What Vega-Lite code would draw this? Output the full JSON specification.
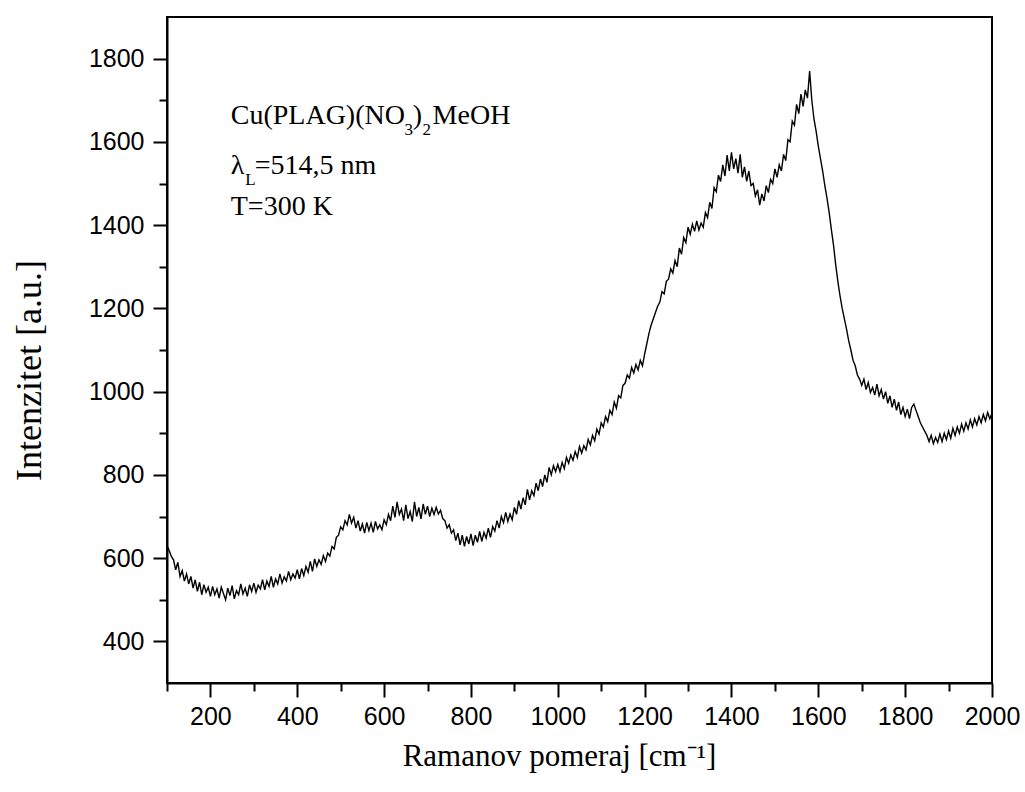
{
  "$schema": "https://vega.github.io/schema/vega-lite/v6.json",
  "width": 825,
  "height": 666,
  "autosize": "none",
  "padding": {"left": 167, "top": 17, "right": 33, "bottom": 109},
  "background": "white",
  "config": {
    "view": {"stroke": "black", "strokeWidth": 2},
    "axis": {
      "grid": false,
      "domainColor": "black",
      "domainWidth": 2,
      "tickColor": "black",
      "tickWidth": 2,
      "labelFont": "Liberation Sans",
      "labelFontSize": 25,
      "labelColor": "black",
      "labelOverlap": false,
      "labelFlush": false,
      "titleFont": "Liberation Serif",
      "titleFontWeight": "normal",
      "titleColor": "black"
    }
  },
  "datasets": {
    "spectrum": [
      {"shift":100,"counts":630},{"shift":105,"counts":618},{"shift":110,"counts":604},{"shift":115,"counts":596},{"shift":120,"counts":572},{"shift":125,"counts":590},{"shift":130,"counts":556},{"shift":135,"counts":570},{"shift":140,"counts":545},{"shift":145,"counts":562},{"shift":150,"counts":538},{"shift":155,"counts":556},{"shift":160,"counts":528},{"shift":165,"counts":548},{"shift":170,"counts":520},{"shift":175,"counts":542},{"shift":180,"counts":512},{"shift":185,"counts":536},{"shift":190,"counts":518},{"shift":195,"counts":530},
      {"shift":200,"counts":508},{"shift":205,"counts":532},{"shift":210,"counts":512},{"shift":215,"counts":526},{"shift":220,"counts":504},{"shift":225,"counts":530},{"shift":230,"counts":515},{"shift":235,"counts":500},{"shift":240,"counts":528},{"shift":245,"counts":510},{"shift":250,"counts":534},{"shift":255,"counts":502},{"shift":260,"counts":522},{"shift":265,"counts":512},{"shift":270,"counts":538},{"shift":275,"counts":514},{"shift":280,"counts":528},{"shift":285,"counts":508},{"shift":290,"counts":536},{"shift":295,"counts":520},
      {"shift":300,"counts":540},{"shift":305,"counts":518},{"shift":310,"counts":535},{"shift":315,"counts":526},{"shift":320,"counts":548},{"shift":325,"counts":524},{"shift":330,"counts":545},{"shift":335,"counts":532},{"shift":340,"counts":556},{"shift":345,"counts":530},{"shift":350,"counts":550},{"shift":355,"counts":538},{"shift":360,"counts":562},{"shift":365,"counts":540},{"shift":370,"counts":555},{"shift":375,"counts":545},{"shift":380,"counts":568},{"shift":385,"counts":548},{"shift":390,"counts":562},{"shift":395,"counts":552},
      {"shift":400,"counts":572},{"shift":405,"counts":550},{"shift":410,"counts":575},{"shift":415,"counts":558},{"shift":420,"counts":580},{"shift":425,"counts":566},{"shift":430,"counts":592},{"shift":435,"counts":568},{"shift":440,"counts":598},{"shift":445,"counts":580},{"shift":450,"counts":596},{"shift":455,"counts":585},{"shift":460,"counts":606},{"shift":465,"counts":592},{"shift":470,"counts":612},{"shift":475,"counts":605},{"shift":480,"counts":628},{"shift":485,"counts":622},{"shift":490,"counts":650},{"shift":495,"counts":655},
      {"shift":500,"counts":675},{"shift":505,"counts":668},{"shift":510,"counts":690},{"shift":515,"counts":680},{"shift":520,"counts":705},{"shift":525,"counts":684},{"shift":530,"counts":698},{"shift":535,"counts":672},{"shift":540,"counts":690},{"shift":545,"counts":665},{"shift":550,"counts":682},{"shift":555,"counts":660},{"shift":560,"counts":686},{"shift":565,"counts":666},{"shift":570,"counts":684},{"shift":575,"counts":662},{"shift":580,"counts":688},{"shift":585,"counts":670},{"shift":590,"counts":680},{"shift":595,"counts":668},
      {"shift":600,"counts":692},{"shift":605,"counts":680},{"shift":610,"counts":705},{"shift":615,"counts":690},{"shift":620,"counts":725},{"shift":625,"counts":698},{"shift":630,"counts":735},{"shift":635,"counts":705},{"shift":640,"counts":718},{"shift":645,"counts":690},{"shift":650,"counts":728},{"shift":655,"counts":695},{"shift":660,"counts":712},{"shift":665,"counts":688},{"shift":670,"counts":735},{"shift":675,"counts":700},{"shift":680,"counts":722},{"shift":685,"counts":694},{"shift":690,"counts":730},{"shift":695,"counts":705},
      {"shift":700,"counts":725},{"shift":705,"counts":700},{"shift":710,"counts":720},{"shift":715,"counts":705},{"shift":720,"counts":722},{"shift":725,"counts":706},{"shift":730,"counts":715},{"shift":735,"counts":695},{"shift":740,"counts":690},{"shift":745,"counts":672},{"shift":750,"counts":680},{"shift":755,"counts":660},{"shift":760,"counts":668},{"shift":765,"counts":642},{"shift":770,"counts":660},{"shift":775,"counts":632},{"shift":780,"counts":655},{"shift":785,"counts":628},{"shift":790,"counts":652},{"shift":795,"counts":634},
      {"shift":800,"counts":658},{"shift":805,"counts":630},{"shift":810,"counts":655},{"shift":815,"counts":638},{"shift":820,"counts":664},{"shift":825,"counts":640},{"shift":830,"counts":662},{"shift":835,"counts":648},{"shift":840,"counts":672},{"shift":845,"counts":650},{"shift":850,"counts":676},{"shift":855,"counts":665},{"shift":860,"counts":690},{"shift":865,"counts":672},{"shift":870,"counts":700},{"shift":875,"counts":685},{"shift":880,"counts":710},{"shift":885,"counts":688},{"shift":890,"counts":706},{"shift":895,"counts":692},
      {"shift":900,"counts":722},{"shift":905,"counts":705},{"shift":910,"counts":738},{"shift":915,"counts":718},{"shift":920,"counts":745},{"shift":925,"counts":728},{"shift":930,"counts":765},{"shift":935,"counts":740},{"shift":940,"counts":762},{"shift":945,"counts":750},{"shift":950,"counts":780},{"shift":955,"counts":762},{"shift":960,"counts":790},{"shift":965,"counts":772},{"shift":970,"counts":800},{"shift":975,"counts":782},{"shift":980,"counts":818},{"shift":985,"counts":800},{"shift":990,"counts":822},{"shift":995,"counts":808},
      {"shift":1000,"counts":825},{"shift":1005,"counts":808},{"shift":1010,"counts":830},{"shift":1015,"counts":815},{"shift":1020,"counts":842},{"shift":1025,"counts":828},{"shift":1030,"counts":848},{"shift":1035,"counts":835},{"shift":1040,"counts":856},{"shift":1045,"counts":842},{"shift":1050,"counts":868},{"shift":1055,"counts":852},{"shift":1060,"counts":870},{"shift":1065,"counts":860},{"shift":1070,"counts":885},{"shift":1075,"counts":872},{"shift":1080,"counts":895},{"shift":1085,"counts":882},{"shift":1090,"counts":910},{"shift":1095,"counts":898},
      {"shift":1100,"counts":925},{"shift":1105,"counts":915},{"shift":1110,"counts":940},{"shift":1115,"counts":928},{"shift":1120,"counts":955},{"shift":1125,"counts":945},{"shift":1130,"counts":975},{"shift":1135,"counts":960},{"shift":1140,"counts":990},{"shift":1145,"counts":985},{"shift":1150,"counts":1015},{"shift":1155,"counts":1020},{"shift":1160,"counts":1040},{"shift":1165,"counts":1032},{"shift":1170,"counts":1058},{"shift":1175,"counts":1045},{"shift":1180,"counts":1065},{"shift":1185,"counts":1052},{"shift":1190,"counts":1075},{"shift":1195,"counts":1062},
      {"shift":1200,"counts":1090},{"shift":1205,"counts":1115},{"shift":1210,"counts":1140},{"shift":1215,"counts":1160},{"shift":1220,"counts":1175},{"shift":1225,"counts":1190},{"shift":1230,"counts":1205},{"shift":1235,"counts":1215},{"shift":1240,"counts":1240},{"shift":1245,"counts":1235},{"shift":1250,"counts":1265},{"shift":1255,"counts":1270},{"shift":1260,"counts":1295},{"shift":1265,"counts":1285},{"shift":1270,"counts":1315},{"shift":1275,"counts":1300},{"shift":1280,"counts":1345},{"shift":1285,"counts":1330},{"shift":1290,"counts":1370},{"shift":1295,"counts":1358},
      {"shift":1300,"counts":1395},{"shift":1305,"counts":1378},{"shift":1310,"counts":1402},{"shift":1315,"counts":1385},{"shift":1320,"counts":1410},{"shift":1325,"counts":1388},{"shift":1330,"counts":1405},{"shift":1335,"counts":1395},{"shift":1340,"counts":1430},{"shift":1345,"counts":1418},{"shift":1350,"counts":1455},{"shift":1355,"counts":1440},{"shift":1360,"counts":1490},{"shift":1365,"counts":1480},{"shift":1370,"counts":1520},{"shift":1375,"counts":1505},{"shift":1380,"counts":1545},{"shift":1385,"counts":1518},{"shift":1390,"counts":1568},{"shift":1395,"counts":1530},
      {"shift":1400,"counts":1575},{"shift":1405,"counts":1535},{"shift":1410,"counts":1560},{"shift":1415,"counts":1525},{"shift":1420,"counts":1570},{"shift":1425,"counts":1515},{"shift":1430,"counts":1540},{"shift":1435,"counts":1505},{"shift":1440,"counts":1530},{"shift":1445,"counts":1495},{"shift":1450,"counts":1500},{"shift":1455,"counts":1470},{"shift":1460,"counts":1485},{"shift":1465,"counts":1448},{"shift":1470,"counts":1475},{"shift":1475,"counts":1458},{"shift":1480,"counts":1495},{"shift":1485,"counts":1478},{"shift":1490,"counts":1510},{"shift":1495,"counts":1500},
      {"shift":1500,"counts":1535},{"shift":1505,"counts":1515},{"shift":1510,"counts":1545},{"shift":1515,"counts":1530},{"shift":1520,"counts":1570},{"shift":1525,"counts":1555},{"shift":1530,"counts":1605},{"shift":1535,"counts":1600},{"shift":1540,"counts":1650},{"shift":1545,"counts":1640},{"shift":1550,"counts":1690},{"shift":1555,"counts":1668},{"shift":1560,"counts":1715},{"shift":1565,"counts":1685},{"shift":1570,"counts":1725},{"shift":1575,"counts":1705},{"shift":1580,"counts":1770},{"shift":1585,"counts":1700},{"shift":1590,"counts":1655},{"shift":1595,"counts":1625},
      {"shift":1600,"counts":1590},{"shift":1605,"counts":1560},{"shift":1610,"counts":1530},{"shift":1615,"counts":1495},{"shift":1620,"counts":1465},{"shift":1625,"counts":1430},{"shift":1630,"counts":1390},{"shift":1635,"counts":1352},{"shift":1640,"counts":1305},{"shift":1645,"counts":1265},{"shift":1650,"counts":1230},{"shift":1655,"counts":1200},{"shift":1660,"counts":1175},{"shift":1665,"counts":1150},{"shift":1670,"counts":1122},{"shift":1675,"counts":1100},{"shift":1680,"counts":1075},{"shift":1685,"counts":1062},{"shift":1690,"counts":1040},{"shift":1695,"counts":1030},
      {"shift":1700,"counts":1015},{"shift":1705,"counts":1030},{"shift":1710,"counts":1005},{"shift":1715,"counts":1022},{"shift":1720,"counts":998},{"shift":1725,"counts":1010},{"shift":1730,"counts":992},{"shift":1735,"counts":1018},{"shift":1740,"counts":990},{"shift":1745,"counts":1005},{"shift":1750,"counts":982},{"shift":1755,"counts":1000},{"shift":1760,"counts":972},{"shift":1765,"counts":990},{"shift":1770,"counts":962},{"shift":1775,"counts":982},{"shift":1780,"counts":955},{"shift":1785,"counts":975},{"shift":1790,"counts":945},{"shift":1795,"counts":962},
      {"shift":1800,"counts":940},{"shift":1805,"counts":958},{"shift":1810,"counts":935},{"shift":1815,"counts":962},{"shift":1820,"counts":970},{"shift":1825,"counts":955},{"shift":1830,"counts":940},{"shift":1835,"counts":925},{"shift":1840,"counts":915},{"shift":1845,"counts":905},{"shift":1850,"counts":895},{"shift":1855,"counts":880},{"shift":1860,"counts":895},{"shift":1865,"counts":875},{"shift":1870,"counts":890},{"shift":1875,"counts":878},{"shift":1880,"counts":898},{"shift":1885,"counts":880},{"shift":1890,"counts":900},{"shift":1895,"counts":885},
      {"shift":1900,"counts":905},{"shift":1905,"counts":888},{"shift":1910,"counts":912},{"shift":1915,"counts":895},{"shift":1920,"counts":915},{"shift":1925,"counts":900},{"shift":1930,"counts":922},{"shift":1935,"counts":905},{"shift":1940,"counts":925},{"shift":1945,"counts":910},{"shift":1950,"counts":932},{"shift":1955,"counts":915},{"shift":1960,"counts":935},{"shift":1965,"counts":920},{"shift":1970,"counts":940},{"shift":1975,"counts":925},{"shift":1980,"counts":945},{"shift":1985,"counts":930},{"shift":1990,"counts":950},{"shift":1995,"counts":935},{"shift":2000,"counts":948}
    ],
    "notes": [
      {"shift":246.8,"counts":1644,"text":"Cu(PLAG)(NO","kind":"main"},
      {"shift":647,"counts":1616,"text":"3","kind":"sub"},
      {"shift":665.7,"counts":1644,"text":")","kind":"main"},
      {"shift":688.7,"counts":1616,"text":"2","kind":"sub"},
      {"shift":711.7,"counts":1644,"text":"MeOH","kind":"main"},
      {"shift":246.8,"counts":1524,"text":"λ","kind":"main"},
      {"shift":280,"counts":1496,"text":"L","kind":"sub"},
      {"shift":302,"counts":1524,"text":"=514,5 nm","kind":"main"},
      {"shift":246.8,"counts":1425,"text":"T=300 K","kind":"main"}
    ]
  },
  "encoding": {
    "x": {
      "field": "shift",
      "type": "quantitative",
      "scale": {"domain": [100, 2000], "nice": false, "zero": false},
      "axis": {
        "title": "Ramanov pomeraj [cm⁻¹]",
        "titleFontSize": 31,
        "titleX": 392,
        "values": [100,200,300,400,500,600,700,800,900,1000,1100,1200,1300,1400,1500,1600,1700,1800,1900,2000],
        "labelExpr": "datum.value % 200 === 0 ? datum.label : ''",
        "format": "d",
        "tickSize": {"condition": {"test": "datum.value % 200 === 0", "value": 14}, "value": 8},
        "labelPadding": 7,
        "titlePadding": 12
      }
    },
    "y": {
      "field": "counts",
      "type": "quantitative",
      "scale": {"domain": [300, 1900], "nice": false, "zero": false},
      "axis": {
        "title": "Intenzitet [a.u.]",
        "titleFontSize": 36,
        "titleY": 353,
        "values": [400,500,600,700,800,900,1000,1100,1200,1300,1400,1500,1600,1700,1800],
        "labelExpr": "datum.value % 200 === 0 ? datum.label : ''",
        "format": "d",
        "tickSize": {"condition": {"test": "datum.value % 200 === 0", "value": 14}, "value": 8},
        "labelPadding": 9,
        "titlePadding": 40
      }
    }
  },
  "layer": [
    {
      "data": {"name": "spectrum"},
      "mark": {"type": "line", "color": "black", "strokeWidth": 1.4}
    },
    {
      "data": {"name": "notes"},
      "transform": [{"filter": "datum.kind === 'main'"}],
      "mark": {"type": "text", "align": "left", "baseline": "alphabetic", "font": "Liberation Serif", "fontSize": 28, "color": "black"},
      "encoding": {"text": {"field": "text"}}
    },
    {
      "data": {"name": "notes"},
      "transform": [{"filter": "datum.kind === 'sub'"}],
      "mark": {"type": "text", "align": "left", "baseline": "alphabetic", "font": "Liberation Serif", "fontSize": 17, "color": "black"},
      "encoding": {"text": {"field": "text"}}
    }
  ]
}
